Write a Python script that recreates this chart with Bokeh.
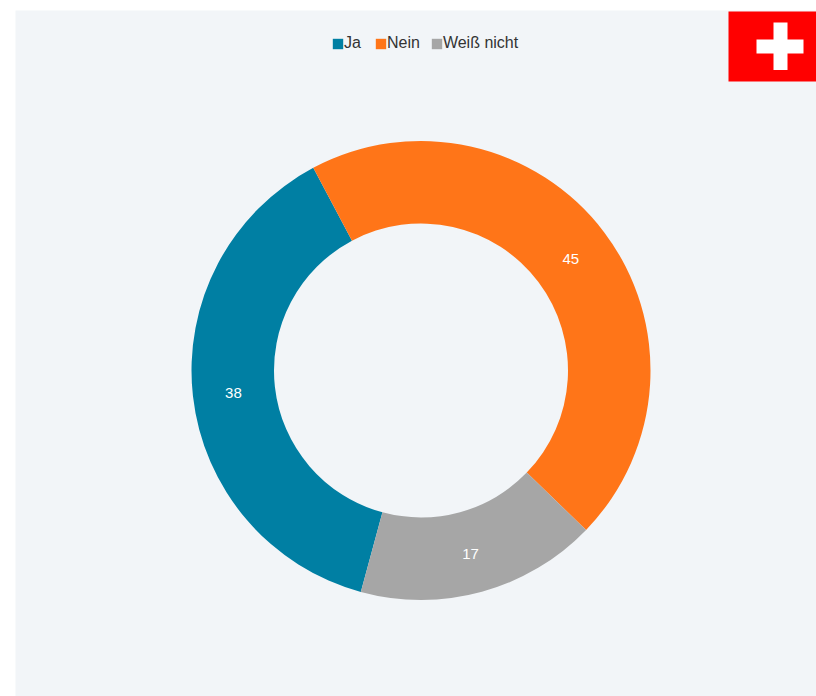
from math import pi, sin, cos, nan
from bokeh.plotting import figure
from bokeh.models import Range1d, Legend, LegendItem
from bokeh.core.properties import value
from bokeh.embed import file_html
from bokeh.resources import INLINE

categories = ["Ja", "Nein", "Weiß nicht"]
values = [38, 45, 17]
colors = ["#007fa3", "#ff7518", "#a6a6a6"]
label_values = [str(v) for v in values]

W, H = 816, 696
def X(px): return px
def Y(py): return H - py

CX, CY, R_OUT, R_IN = X(420.5), Y(370), 229.5, 147
START = 195.2  # clockwise from top, where the first slice starts

p = figure(width=W, height=H, output_backend="svg", toolbar_location=None,
           x_range=Range1d(0, W), y_range=Range1d(0, H), min_border=0,
           background_fill_color="white", border_fill_color="white", outline_line_color=None)
p.axis.visible = False
p.grid.visible = False

PANEL = "#f2f5f8"
p.quad(left=[X(15)], right=[W], top=[Y(10)], bottom=[0], fill_color=PANEL, line_color=None)

# flag
p.quad(left=[X(728)], right=[W], top=[Y(11)], bottom=[Y(81)], fill_color="#ff0000", line_color=None)
p.quad(left=[X(773), X(756)], right=[X(787), X(803)], top=[Y(22), Y(39)], bottom=[Y(69.5), Y(53)],
       fill_color="white", line_color=None)

total = sum(values)
a = START
starts, ends, lx, ly = [], [], [], []
for v in values:
    b = a + 360 * v / total
    starts.append(a); ends.append(b)
    m = (a + b) / 2
    rm = (R_OUT + R_IN) / 2
    lx.append(CX + rm * sin(m * pi / 180))
    ly.append(CY + rm * cos(m * pi / 180))
    a = b

items = []
for c, col, s, e in zip(categories, colors, starts, ends):
    p.annular_wedge(x=[CX], y=[CY], inner_radius=R_IN, outer_radius=R_OUT,
                    start_angle=(90 - e) * pi / 180, end_angle=(90 - s) * pi / 180,
                    direction="anticlock", fill_color=col, line_color=None)
    q = p.quad(left=[nan], right=[nan], top=[nan], bottom=[nan], fill_color=col, line_color=None)
    items.append(LegendItem(label=c, renderers=[q]))

p.text(x=lx, y=ly, text=label_values, text_color="white", text_font=value("Liberation Sans"),
       text_font_size="15px", text_align="center", text_baseline="middle", y_offset=2, x_offset=-0.5)

legend = Legend(items=items, orientation="horizontal", location=(X(331), Y(52)),
                background_fill_alpha=0, border_line_color=None, glyph_width=13, glyph_height=13,
                label_standoff=0, spacing=10, margin=0, padding=0,
                label_text_font="Liberation Sans", label_text_font_size="16px",
                label_text_color="#333333", label_height=16)
p.add_layout(legend, "center")

open("out.html", "w").write(file_html(p, INLINE))
